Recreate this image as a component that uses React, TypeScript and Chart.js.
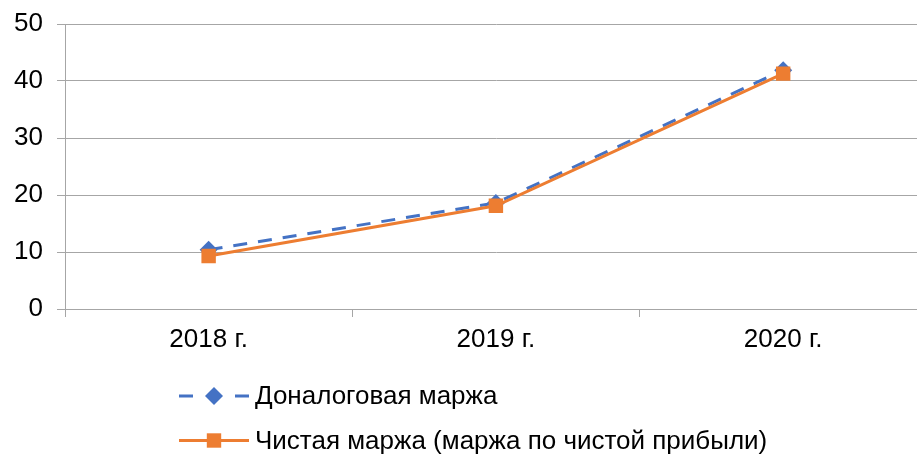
import React, { useEffect, useRef } from "react";
import { Chart, registerables } from "chart.js";

Chart.register(...registerables);

const categories = ["2018 г.", "2019 г.", "2020 г."];
const preTaxMargin = [10.4, 18.6, 41.9];
const netMargin = [9.3, 18.1, 41.3];
const seriesNames = ["Доналоговая маржа", "Чистая маржа (маржа по чистой прибыли)"];

const BLUE = "#4472C4";
const ORANGE = "#ED7D31";
const FONT = "'Liberation Sans', Arial, sans-serif";

const legendPlugin = {
  id: "customLegend",
  afterDraw(chart: any) {
    const ctx = chart.ctx;
    const rows = [396, 440.5];
    const x0 = 179;
    const x1 = 249;
    const mx = 214;
    const tx = 255;
    chart.data.datasets.forEach((ds: any, i: number) => {
      const y = rows[i];
      const dashed = ds.borderDash && ds.borderDash.length;
      ctx.save();
      ctx.strokeStyle = ds.borderColor;
      ctx.lineWidth = 3;
      ctx.beginPath();
      if (dashed) {
        ctx.moveTo(x0, y);
        ctx.lineTo(x0 + 14, y);
        ctx.moveTo(x1 - 14, y);
        ctx.lineTo(x1, y);
      } else {
        ctx.moveTo(x0, y);
        ctx.lineTo(x1, y);
      }
      ctx.stroke();
      ctx.fillStyle = ds.borderColor;
      ctx.beginPath();
      if (dashed) {
        const r = 9;
        ctx.moveTo(mx - r, y);
        ctx.lineTo(mx, y - r);
        ctx.lineTo(mx + r, y);
        ctx.lineTo(mx, y + r);
        ctx.closePath();
      } else {
        const s = 7.2;
        ctx.rect(mx - s, y - s, 2 * s, 2 * s);
      }
      ctx.fill();
      ctx.fillStyle = "#000";
      ctx.font = `26px ${FONT}`;
      ctx.textBaseline = "middle";
      ctx.textAlign = "left";
      ctx.fillText(ds.label, tx, y + 1);
      ctx.restore();
    });
  },
};

export default function App() {
  const ref = useRef<HTMLCanvasElement>(null);
  useEffect(() => {
    if (!ref.current) return;
    const chart = new Chart(ref.current, {
      type: "line",
      data: {
        labels: categories,
        datasets: [
          {
            label: seriesNames[0],
            data: preTaxMargin,
            borderColor: BLUE,
            backgroundColor: BLUE,
            pointBackgroundColor: BLUE,
            pointBorderColor: BLUE,
            borderWidth: 3,
            borderDash: [14, 11],
            pointStyle: "rectRot",
            pointRadius: 9,
            pointBorderWidth: 0,
            order: 1,
          },
          {
            label: seriesNames[1],
            data: netMargin,
            borderColor: ORANGE,
            backgroundColor: ORANGE,
            pointBackgroundColor: ORANGE,
            pointBorderColor: ORANGE,
            borderWidth: 3,
            pointStyle: "rect",
            pointRadius: 10.2,
            pointBorderWidth: 0,
            order: 0,
          },
        ],
      },
      options: {
        animation: false,
        responsive: false,
        layout: { padding: { top: 24, right: 3, left: 0, bottom: 0 } },
        plugins: { legend: { display: false }, tooltip: { enabled: false } },
        scales: {
          x: {
            offset: true,
            afterFit: (s: any) => {
              s.height = 146;
            },
            grid: {
              offset: true,
              drawOnChartArea: false,
              drawTicks: true,
              tickLength: 8,
              color: "#a6a6a6",
              lineWidth: 1,
            },
            border: { display: true, color: "#a6a6a6", width: 1 },
            ticks: {
              color: "#000",
              font: { family: FONT, size: 26 },
              padding: 7,
            },
          },
          y: {
            min: 0,
            max: 50,
            afterFit: (s: any) => {
              s.width = 65;
              s.paddingTop = 0;
              s.paddingBottom = 0;
            },
            ticks: {
              stepSize: 10,
              color: "#000",
              font: { family: FONT, size: 26 },
              padding: 14,
            },
            grid: {
              color: "#a6a6a6",
              lineWidth: 1,
              tickLength: 8,
              drawTicks: true,
            },
            border: { display: true, color: "#a6a6a6", width: 1 },
          },
        },
      },
      plugins: [legendPlugin],
    });
    return () => chart.destroy();
  }, []);
  return (
    <div
      style={{
        position: "absolute",
        left: 0,
        top: 0,
        width: 917,
        height: 455,
        overflow: "hidden",
        background: "#fff",
      }}
    >
      <canvas ref={ref} width={937} height={455} style={{ display: "block" }} />
    </div>
  );
}
